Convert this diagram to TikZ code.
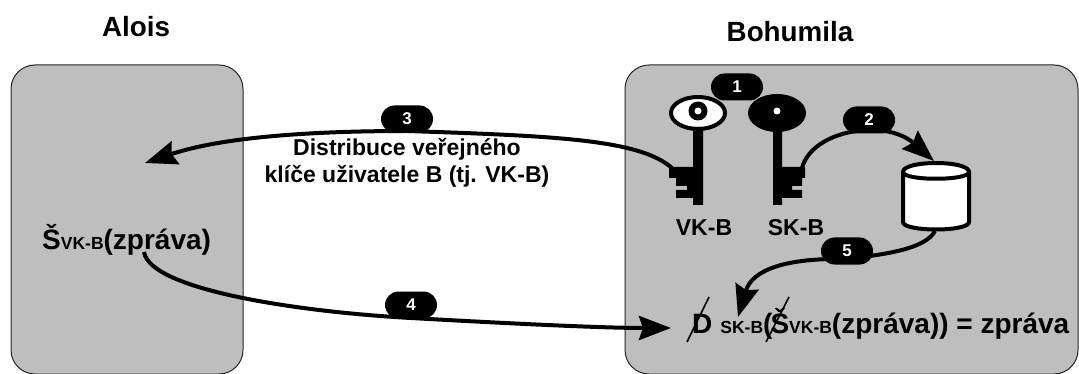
\documentclass[tikz,border=0pt]{standalone}
\usepackage{fontspec}
\setmainfont{Liberation Sans}
\usetikzlibrary{arrows.meta,shapes.misc}
\tikzset{
  panel/.style={draw=black!85,fill=panelgray,line width=1pt,rounded corners=24pt},
  pill/.style={rounded rectangle,fill=black,text=white,font=\fontsize{17}{17}\selectfont\bfseries,minimum width=52pt,minimum height=27pt,inner sep=0pt},
  flow/.style={line width=4pt,-{Stealth[length=32pt,width=24pt,inset=4pt]}},
  txt/.style={font=\fontsize{23}{23}\selectfont\bfseries,inner sep=0pt},
  big/.style={font=\fontsize{28}{28}\selectfont\bfseries,inner sep=0pt},
  title/.style={font=\fontsize{27.8}{28}\selectfont\bfseries,inner sep=0pt},
  strike/.style={line width=1.6pt,black},
  keypart/.style={fill=black,draw=none},
}
\definecolor{panelgray}{HTML}{BEBEBE}
\newcommand{\sbs}[1]{{\fontsize{17.5}{17.5}\selectfont #1}}
\begin{document}
\begin{tikzpicture}[x=1pt,y=-1pt]
\useasboundingbox (0,0) rectangle (1079,374);
\path[fill=white] (0,0) rectangle (1079,374);
% panels
\draw[panel] (11,65) rectangle (243,374);
\draw[panel] (625,65) rectangle (1078,374);
% titles
\node[title,anchor=base] (alois) at (136,37) {Alois};
\node[title,anchor=base] (bohumila) at (790,42) {Bohumila};
% public key
\draw[line width=4pt,fill=white] (698,113) ellipse (27pt and 16pt);
\fill[black] (698,111) circle (9.5pt);
\fill[white] (698,111) circle (3.5pt);
\path[keypart] (693,127) -- (703,127) -- (703,205) -- (693,205) -- (693,198) -- (676,198) -- (676,190) -- (687,190) -- (687,186) -- (676,186) -- (676,178) -- (669,178) -- (669,167) -- (693,167) -- cycle;
% private key
\fill[black] (777,113) ellipse (29pt and 19pt);
\fill[white] (777,111) circle (3.5pt);
\path[keypart] (773,127) -- (782,127) -- (782,167) -- (805,167) -- (805,178) -- (802,178) -- (802,186) -- (792,186) -- (792,190) -- (802,190) -- (802,198) -- (782,198) -- (782,205) -- (773,205) -- cycle;
\node[txt,anchor=base] (vkb) at (704,236) {VK-B};
\node[txt,anchor=base] (skb) at (796,236) {SK-B};
% storage
\draw[line width=4pt,fill=white,line join=round] (903,172) .. controls (903,160) and (969,160) .. (969,172) -- (969,222) .. controls (969,232) and (903,232) .. (903,222) -- cycle;
\draw[line width=4pt,fill=white] (903,172) .. controls (903,181) and (969,181) .. (969,172);
% anchors
\coordinate (vkbit) at (672,168);
\coordinate (skbit) at (802,168);
\coordinate (distTip) at (145,163);
\coordinate (storeIn) at (934,161);
\coordinate (storeOut) at (935,231);
\coordinate (msgOut) at (144,252);
\coordinate (decIn) at (671,328);
\coordinate (decTop) at (738,317);
% connectors
\draw[flow] (vkbit) .. controls (640,140) and (560,136) .. (407,131) .. controls (320,131) and (225,136) .. (distTip);
\draw[flow] (skbit) .. controls (812,130) and (885,118) .. (storeIn);
\draw[flow] (storeOut) .. controls (925,250) and (880,255) .. (845,259) .. controls (785,258) and (752,270) .. (decTop);
\draw[flow] (msgOut) .. controls (150,290) and (300,312) .. (411,318) .. controls (500,323) and (600,328) .. (decIn);
% step labels
\node[pill] (n1) at (737,87) {1};
\node[pill] (n2) at (869,120) {2};
\node[pill] (n3) at (407,119) {3};
\node[pill] (n4) at (411,305) {4};
\node[pill] (n5) at (847,251) {5};
% texts
\node[txt,align=center,anchor=center,font=\fontsize{23}{27.5}\selectfont\bfseries] (dist) at (407,163) {Distribuce veřejného\\klíče uživatele B (tj. VK-B)};
\node[big,anchor=base west] (enc) at (42,250) {Š\sbs{VK-B}(zpráva)};
\node[big,anchor=base west] (dec) at (692,333) {D\hspace{8pt}\sbs{SK-B}(\hspace{-2pt}Š\sbs{VK-B}(zpráva)) = zpráva};
% strikes
\coordinate (d1) at (709,297); \coordinate (d2) at (687,342);
\coordinate (s1) at (789,297); \coordinate (s2) at (766,342);
\draw[strike] (d1) -- (d2);
\draw[strike] (s1) -- (s2);
\end{tikzpicture}
\end{document}
